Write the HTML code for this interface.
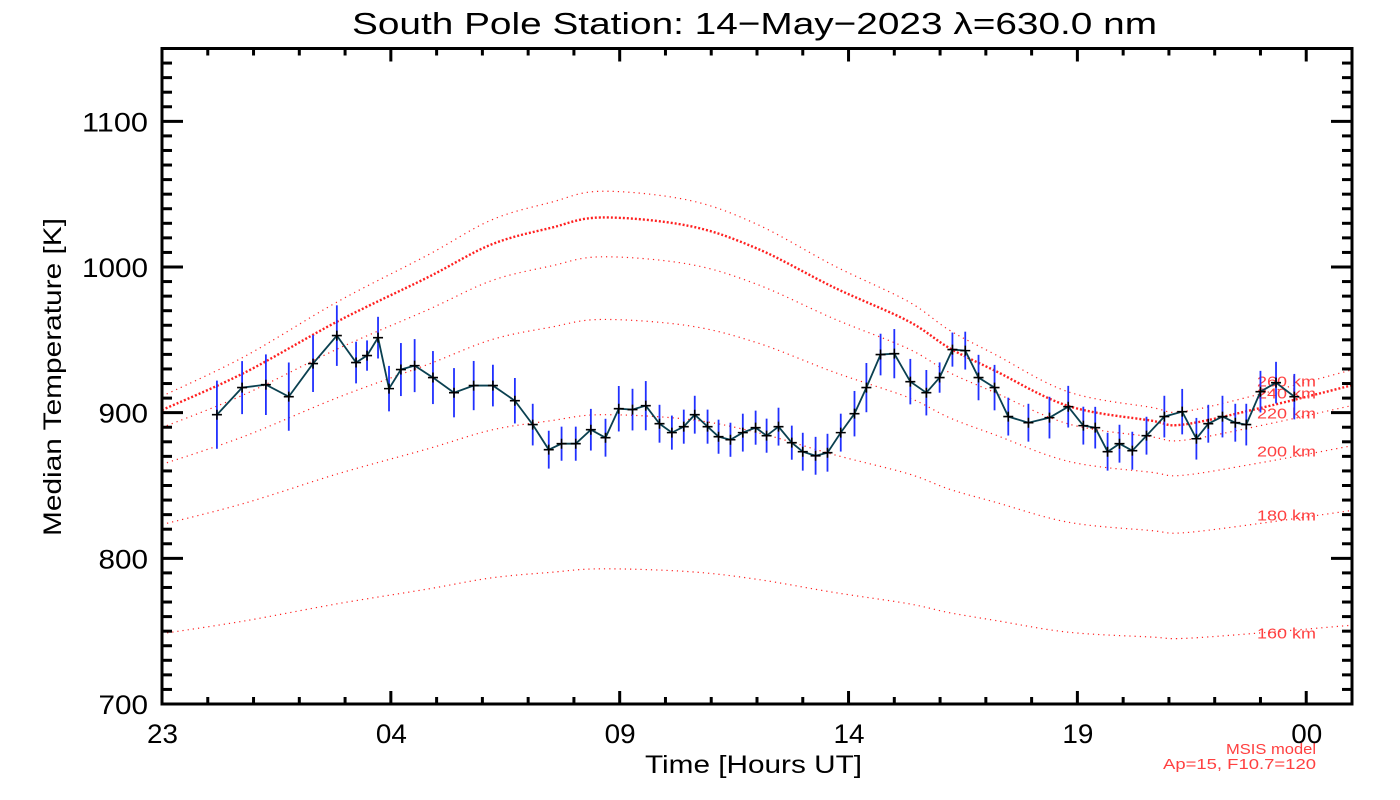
<!DOCTYPE html>
<html><head><meta charset="utf-8"><style>
html,body{margin:0;padding:0;background:#fff;}
svg{display:block;font-family:"Liberation Sans",sans-serif;}
</style></head><body>
<svg id="chart" width="1400" height="800" viewBox="0 0 1400 800" xmlns="http://www.w3.org/2000/svg">
<rect width="1400" height="800" fill="#fff"/>
<text x="352" y="34" font-size="31" textLength="805" lengthAdjust="spacingAndGlyphs" fill="#000">South Pole Station: 14−May−2023 λ=630.0 nm</text>
<text transform="translate(61,377) rotate(-90)" font-size="25" text-anchor="middle" textLength="318" lengthAdjust="spacingAndGlyphs" fill="#000">Median Temperature [K]</text>
<text x="645" y="773" font-size="25" textLength="217" lengthAdjust="spacingAndGlyphs" fill="#000">Time [Hours UT]</text>
<text x="1226" y="754" font-size="15" textLength="90" lengthAdjust="spacingAndGlyphs" fill="#ff4040">MSIS model</text>
<text x="1163" y="769" font-size="15" textLength="153" lengthAdjust="spacingAndGlyphs" fill="#ff4040">Ap=15, F10.7=120</text>
<g id="msis"></g>
<g id="data"></g>
<g id="axes"></g>
</svg>
<script>
// ---- data ----
const xTickLabels = ["23","04","09","14","19","00"];
const yTickValues = [700,800,900,1000,1100];
const msisHours = [0,1.8,3.85,5.8,7.2,8.5,9.6,11.5,13,14.7,16.3,17.2,18.2,19.8,21.6,22.3,24,26];
const msis260 = [911.3,938.5,976.4,1008.1,1032.3,1044.4,1052,1045.9,1029.3,1000.6,976.4,956.7,940.0,914.3,903.7,900.7,912.8,929.4];
const msis240 = [901.8,927.4,962.9,992.8,1015.5,1026.9,1034,1028.3,1012.7,985.7,962.9,944.4,928.8,904.6,894.6,891.8,903.2,918.8];
const msis220 = [889.8,912.5,944,970.5,990.6,1000.7,1007,1002,988.1,964.2,944,927.6,913.8,892.3,883.5,881,891.1,904.9];
const msis200 = [864.5,883.8,910.5,933,950.1,958.7,964,959.7,948,927.6,910.5,896.6,884.8,866.6,859.1,857,865.6,877.3];
const msis180 = [823.2,837.8,858.1,875.1,888.1,894.5,898.6,895.4,886.4,871,858.1,847.5,838.6,824.8,819.1,817.5,824,832.9];
const msis160 = [748.3,757,768.9,778.9,786.6,790.4,792.8,790.9,785.6,776.5,768.9,762.7,757.4,749.3,746,745,748.8,754.1];
const msisLabels = ["260 km","240 km","220 km","200 km","180 km","160 km"];
const obsHours = [1.20,1.75,2.27,2.77,3.30,3.82,4.24,4.48,4.72,4.96,5.22,5.52,5.92,6.38,6.81,7.23,7.71,8.10,8.45,8.73,9.04,9.37,9.69,9.98,10.28,10.57,10.87,11.14,11.40,11.64,11.92,12.16,12.42,12.69,12.97,13.21,13.47,13.76,14.00,14.28,14.54,14.83,15.13,15.39,15.70,16.00,16.35,16.70,16.99,17.27,17.55,17.84,18.19,18.49,18.93,19.39,19.80,20.13,20.39,20.66,20.92,21.20,21.51,21.90,22.29,22.60,22.86,23.17,23.45,23.69,24.00,24.34,24.74];
const obsTemps = [898.6,917.2,919.2,911.0,933.7,952.9,934.4,939.2,951.5,916.5,929.6,932.3,924.1,913.7,918.6,918.6,908.2,891.8,874.6,878.7,878.7,888.3,882.8,902.7,902.1,904.8,892.4,886.3,890.4,898.6,890.4,883.5,881.4,886.3,889.7,884.2,890.4,879.4,873.2,870.4,872.5,886.3,899.3,917.2,939.9,940.5,921.3,913.7,924.1,943.3,942.6,924.1,917.2,897.3,893.1,896.6,904.1,891.1,889.7,873.2,878.7,873.9,884.2,897.3,900.7,882.1,892.4,897.3,893.1,891.8,914.4,920.6,911.0];
const obsErrors = [18,14,16,18,15,16,11,8,11,12,14,14,14,13,13,11,12,11,10,9,9,11,10,12,11,13,10,9,9,10,9,9,9,10,9,9,10,9,10,10,10,10,12,13,11,13,12,12,8,9,10,12,12,10,10,11,11,10,11,10,10,10,10,11,12,11,10,11,10,11,11,11,12];

// ---- scales ----
const X0=162, X1=1352, Y0=704, Y1=48.5;
const xMin=0, xMax=26, yMin=700, yMax=1150;
const sx = h => X0 + (h-xMin)/(xMax-xMin)*(X1-X0);
const sy = t => Y0 - (t-yMin)/(yMax-yMin)*(Y0-Y1);
const NS="http://www.w3.org/2000/svg";
function mk(tag, attrs, parent){const e=document.createElementNS(NS,tag);for(const k in attrs)e.setAttribute(k,attrs[k]);parent.appendChild(e);return e;}

function smoothPath(xs, ys){
  const p = xs.map((h,i)=>[sx(h), sy(ys[i])]);
  let d = `M${p[0][0]},${p[0][1]}`;
  for(let i=0;i<p.length-1;i++){
    const p0=p[Math.max(0,i-1)], p1=p[i], p2=p[i+1], p3=p[Math.min(p.length-1,i+2)];
    const c1=[p1[0]+(p2[0]-p0[0])/6, p1[1]+(p2[1]-p0[1])/6];
    const c2=[p2[0]-(p3[0]-p1[0])/6, p2[1]-(p3[1]-p1[1])/6];
    d += ` C${c1[0]},${c1[1]} ${c2[0]},${c2[1]} ${p2[0]},${p2[1]}`;
  }
  return d;
}

const msisG = document.getElementById('msis');
const series = [msis260,msis240,msis220,msis200,msis180,msis160];
const labelY = [922,914,900,874,830,749];
series.forEach((vals,i)=>{
  const path = mk('path',{d:smoothPath(msisHours, vals), fill:'none', stroke:'#ff2020', 'stroke-width': i===1?2.4:1.2, 'stroke-dasharray': i===1?'2 2':'1.2 4'}, msisG);
  
  
  const t = mk('text',{x:1257, y:sy(labelY[i])+6, 'font-size':15, textLength:59, lengthAdjust:'spacingAndGlyphs', fill:'#ff4040'}, msisG);
  t.textContent = msisLabels[i];
  
  
});

const dataG = document.getElementById('data');
obsHours.forEach((h,i)=>{
  const eb = mk('line',{x1:sx(h), x2:sx(h), y1:sy(obsTemps[i]-obsErrors[i]*1.3), y2:sy(obsTemps[i]+obsErrors[i]*1.3), stroke:'#2030ff', 'stroke-width':1.8}, dataG);
  
  
});
const line = mk('polyline',{points: obsHours.map((h,i)=>`${sx(h)},${sy(obsTemps[i])}`).join(' '), fill:'none', stroke:'#0a4050', 'stroke-width':1.8}, dataG);


obsHours.forEach((h,i)=>{
  const x=sx(h), y=sy(obsTemps[i]);
  const m = mk('path',{d:`M${x-5},${y}H${x+5}M${x},${y-5}V${y+5}`, stroke:'#000', 'stroke-width':1.6}, dataG);
  
  
});

// ---- axes ----
const ax = document.getElementById('axes');
const frame = mk('rect',{x:X0, y:Y1, width:X1-X0, height:Y0-Y1, fill:'none', stroke:'#000', 'stroke-width':3}, ax);


for(let h=0; h<=26; h++){
  const major = (h%5===0);
  const L = major?13:7, x=sx(h);
  mk('line',{x1:x,x2:x,y1:Y0,y2:Y0-L,stroke:'#000','stroke-width':3},ax);
  mk('line',{x1:x,x2:x,y1:Y1,y2:Y1+L,stroke:'#000','stroke-width':3},ax);
}
xTickLabels.forEach((lab,i)=>{
  const t = mk('text',{x:sx(i*5)-15, y:743, 'font-size':27, textLength:31, lengthAdjust:'spacingAndGlyphs', fill:'#000'}, ax);
  t.textContent = lab;
  
  
});
for(let v=700; v<=1150; v+=10){
  const major = (v%100===0);
  const L = major?21:10, y=sy(v);
  mk('line',{x1:X0,x2:X0+L,y1:y,y2:y,stroke:'#000','stroke-width':3},ax);
  mk('line',{x1:X1,x2:X1-L,y1:y,y2:y,stroke:'#000','stroke-width':3},ax);
}
yTickValues.forEach(v=>{
  const s = String(v);
  const w = s.length*16.5;
  const t = mk('text',{x:148-w, y:sy(v)+10, 'font-size':27, textLength:w, lengthAdjust:'spacingAndGlyphs', fill:'#000'}, ax);
  t.textContent = s;
  
  
});
</script>
</body></html>
